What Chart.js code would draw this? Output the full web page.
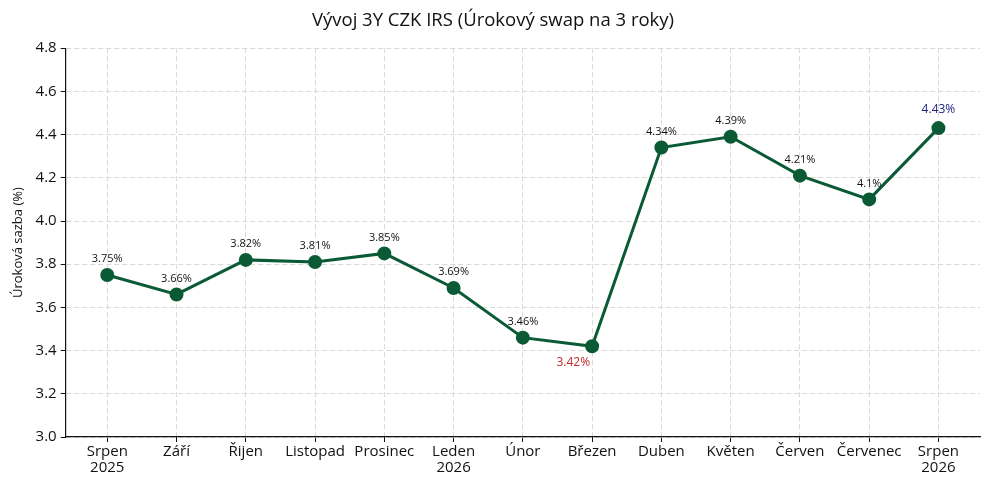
<!DOCTYPE html>
<html><head><meta charset="utf-8">
<script src="https://cdn.jsdelivr.net/npm/chart.js@4.4.1/dist/chart.umd.min.js"></script>
<style>html,body{margin:0;padding:0;background:#fff}#wrap{width:989px;height:490px}</style>
</head><body><div id="wrap"><canvas id="c" width="989" height="490"></canvas></div>
<script>
const categories = [["Srpen","2025"],"Září","Řijen","Listopad","Prosinec",["Leden","2026"],"Únor","Březen","Duben","Květen","Červen","Červenec",["Srpen","2026"]];
const rates = [3.75,3.66,3.82,3.81,3.85,3.69,3.46,3.42,4.34,4.39,4.21,4.10,4.43];
const yTicks = [3.0,3.2,3.4,3.6,3.8,4.0,4.2,4.4,4.6,4.8];
const pointData = rates.map((v,i)=>({x:i,y:v}));
const FONT = "'Open Sans', sans-serif";
const minIdx = rates.indexOf(Math.min(...rates));
const maxIdx = rates.indexOf(Math.max(...rates));
const fmt = v => (Math.round(v*100)/100).toString() + '%';

const labelPlugin = {
  id:'labels',
  afterDatasetsDraw(chart){
    const ctx = chart.ctx;
    const meta = chart.getDatasetMeta(0);
    ctx.save();
    ctx.textBaseline = 'middle';
    meta.data.forEach((pt,i)=>{
      const txt = fmt(rates[i]);
      if(i===minIdx){
        ctx.fillStyle='#c62828'; ctx.font = "12px " + FONT; ctx.textAlign='right';
        ctx.fillText(txt, pt.x-2, pt.y+16);
      } else if(i===maxIdx){
        ctx.fillStyle='#1f237a'; ctx.font = "12px " + FONT; ctx.textAlign='center';
        ctx.fillText(txt, pt.x, pt.y-19);
      } else {
        ctx.fillStyle='#111'; ctx.font = "11px " + FONT; ctx.textAlign='center';
        ctx.fillText(txt, pt.x, pt.y-16);
      }
    });
    ctx.restore();
  }
};

new Chart(document.getElementById('c'),{
  type:'line',
  data:{datasets:[{data:pointData,borderColor:'#0b5a36',backgroundColor:'#0b5a36',borderWidth:3,pointRadius:5.5,pointHoverRadius:5.5,tension:0}]},
  options:{
    responsive:false,animation:false,
    layout:{padding:{left:6,right:9,top:5,bottom:13}},
    plugins:{legend:{display:false},tooltip:{enabled:false},
      title:{display:true,text:'Vývoj 3Y CZK IRS (Úrokový swap na 3 roky)',color:'#111',font:{family:FONT,size:18.5,weight:'normal'},padding:{top:5,bottom:16}}},
    scales:{
      x:{type:'linear',min:-0.6,max:12.6,
        afterBuildTicks(ax){ax.ticks = categories.map((c,i)=>({value:i}));},
        ticks:{autoSkip:false,maxRotation:0,color:'#111',font:{family:FONT,size:15,lineHeight:1.1},padding:1,callback:(v)=>categories[v]},
        grid:{color:'#d9d9d9',lineWidth:1,tickColor:'#111',tickLength:5,drawOnChartArea:true},
        border:{color:'#111',width:1.2,dash:[5,3]}
      },
      y:{min:3.0,max:4.8,
        afterBuildTicks(ax){ax.ticks = yTicks.map(v=>({value:v}));},
        ticks:{color:'#111',font:{family:FONT,size:15},padding:4,callback:(v)=>v.toFixed(1)},
        grid:{color:'#d9d9d9',lineWidth:1,tickColor:'#111',tickLength:5},
        border:{color:'#111',width:1.2,dash:[5,3]},
        title:{display:true,text:'Úroková sazba (%)',color:'#111',font:{family:FONT,size:13},padding:{bottom:6}}
      }
    }
  },
  plugins:[labelPlugin]
});
</script></body></html>
